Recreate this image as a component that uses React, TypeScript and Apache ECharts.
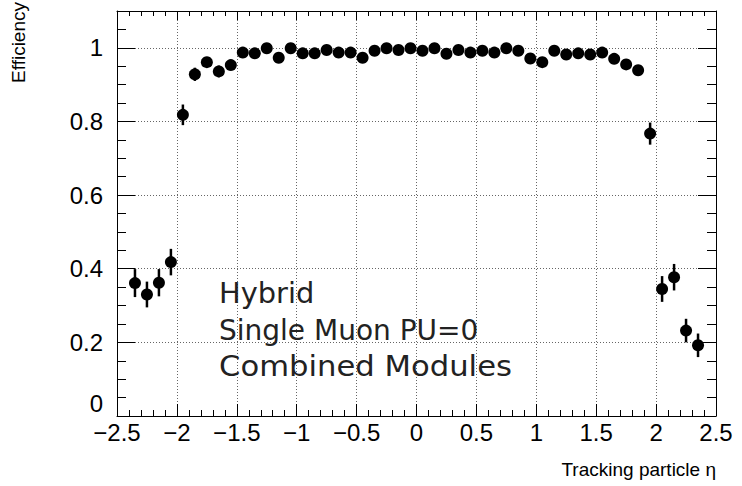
import React, { useEffect, useRef } from "react";
import * as echarts from "echarts";

const etaCenters = [
  -2.35, -2.25, -2.15, -2.05, -1.95, -1.85, -1.75, -1.65, -1.55, -1.45, -1.35, -1.25,
  -1.15, -1.05, -0.95, -0.85, -0.75, -0.65, -0.55, -0.45, -0.35, -0.25, -0.15, -0.05,
  0.05, 0.15, 0.25, 0.35, 0.45, 0.55, 0.65, 0.75, 0.85, 0.95, 1.05, 1.15,
  1.25, 1.35, 1.45, 1.55, 1.65, 1.75, 1.85, 1.95, 2.05, 2.15, 2.25, 2.35,
];
const efficiency = [
  0.361, 0.33, 0.362, 0.418, 0.818, 0.928, 0.961, 0.936, 0.953, 0.987, 0.985, 0.999,
  0.973, 0.999, 0.985, 0.985, 0.994, 0.987, 0.987, 0.973, 0.992, 0.999, 0.994, 0.999,
  0.992, 0.999, 0.984, 0.994, 0.987, 0.992, 0.987, 0.999, 0.992, 0.971, 0.961, 0.992,
  0.982, 0.985, 0.982, 0.987, 0.97, 0.955, 0.939, 0.767, 0.345, 0.377, 0.232, 0.192,
];
const errors = [
  0.038, 0.035, 0.037, 0.036, 0.028, 0.018, 0.012, 0.016, 0.012, 0.008, 0.008, 0.005,
  0.009, 0.005, 0.008, 0.008, 0.006, 0.007, 0.007, 0.009, 0.006, 0.005, 0.006, 0.005,
  0.006, 0.005, 0.008, 0.006, 0.007, 0.006, 0.007, 0.005, 0.006, 0.009, 0.01, 0.006,
  0.008, 0.008, 0.008, 0.007, 0.01, 0.012, 0.014, 0.03, 0.035, 0.036, 0.032, 0.032,
];
const xTitle = "Tracking particle η";
const yTitle = "Efficiency";
const infoLines = ["Hybrid", "Single Muon PU=0", "Combined Modules"];

const AXIS_FONT = "'Liberation Sans', Arial, sans-serif";

export default function App() {
  const ref = useRef<HTMLDivElement>(null);
  useEffect(() => {
    if (!ref.current) return;
    const chart = echarts.init(ref.current, null, { renderer: "svg" });
    const black = "#000";
    const grid = { left: 117, right: 26, top: 11, bottom: 70, containLabel: false };
    const dotted = { show: true, lineStyle: { color: "#666", type: [1, 2] as any, width: 1 } };
    const xBase = {
      type: "value" as const,
      min: -2.5,
      max: 2.5,
      interval: 0.5,
      axisLine: { show: true, onZero: false, lineStyle: { color: black, width: 1 } },
    };
    const yBase = {
      type: "value" as const,
      min: 0,
      max: 1.1,
      axisLine: { show: true, onZero: false, lineStyle: { color: black, width: 1 } },
    };
    const lineScale = [1.03, 1.0, 1.095];
    chart.setOption({
      animation: false,
      grid,
      xAxis: [
        {
          ...xBase,
          position: "bottom",
          axisTick: { show: true, inside: true, length: 12, lineStyle: { color: black } },
          minorTick: { show: true, splitNumber: 5, length: 6, lineStyle: { color: black } },
          axisLabel: {
            show: true,
            color: black,
            fontSize: 24,
            fontFamily: AXIS_FONT,
            margin: 4,
            formatter: (v: number) => String(v).replace("-", "\u2212"),
          },
          splitLine: dotted,
        },
        {
          ...xBase,
          position: "top",
          axisTick: { show: true, inside: true, length: 9, lineStyle: { color: black } },
          minorTick: { show: true, splitNumber: 5, length: 5, lineStyle: { color: black } },
          axisLabel: { show: false },
          splitLine: { show: false },
        },
      ],
      yAxis: [
        {
          ...yBase,
          position: "left",
          interval: 0.2,
          axisTick: { show: true, inside: true, length: 18, lineStyle: { color: black } },
          axisLabel: {
            show: true,
            color: black,
            fontSize: 24,
            fontFamily: AXIS_FONT,
            margin: 14,
            showMaxLabel: false,
            formatter: (v: number) =>
              v > 1.05 ? "" : v === 0 ? "{z|0}" : String(Math.round(v * 10) / 10),
            rich: {
              z: {
                fontSize: 24,
                fontFamily: AXIS_FONT,
                color: black,
                padding: [0, 0, 26, 0],
              },
            },
          },
          splitLine: dotted,
        },
        {
          ...yBase,
          position: "left",
          interval: 0.05,
          axisLine: { show: false, onZero: false },
          axisTick: { show: true, inside: true, length: 9, lineStyle: { color: black } },
          axisLabel: { show: false },
          splitLine: { show: false },
        },
        {
          ...yBase,
          position: "right",
          interval: 0.2,
          axisTick: { show: true, inside: true, length: 18, lineStyle: { color: black } },
          axisLabel: { show: false },
          splitLine: { show: false },
        },
        {
          ...yBase,
          position: "right",
          interval: 0.05,
          axisLine: { show: false, onZero: false },
          axisTick: { show: true, inside: true, length: 9, lineStyle: { color: black } },
          axisLabel: { show: false },
          splitLine: { show: false },
        },
      ],
      series: [
        {
          type: "custom",
          xAxisIndex: 0,
          yAxisIndex: 0,
          encode: { x: 0, y: [1, 2] },
          data: etaCenters.map((x, i) => [x, efficiency[i] - errors[i], efficiency[i] + errors[i]]),
          renderItem: (_params: any, api: any) => {
            const p1 = api.coord([api.value(0), api.value(1)]);
            const p2 = api.coord([api.value(0), api.value(2)]);
            return {
              type: "line",
              shape: { x1: p1[0], y1: p1[1], x2: p2[0], y2: p2[1] },
              style: { stroke: black, lineWidth: 2.5 },
            };
          },
          z: 3,
        },
        {
          type: "scatter",
          xAxisIndex: 0,
          yAxisIndex: 0,
          symbol: "circle",
          symbolSize: 12,
          itemStyle: { color: black, opacity: 1 },
          data: etaCenters.map((x, i) => [x, efficiency[i]]),
          z: 4,
        },
      ],
      graphic: [
        {
          type: "text",
          x: 18,
          y: 2,
          rotation: Math.PI / 2,
          style: {
            text: yTitle,
            fill: black,
            font: `19px ${AXIS_FONT}`,
            align: "right",
            verticalAlign: "middle",
          },
        },
        {
          type: "text",
          x: 716,
          y: 469,
          style: {
            text: xTitle,
            fill: black,
            font: `19px ${AXIS_FONT}`,
            align: "right",
            verticalAlign: "middle",
          },
        },
        ...infoLines.map((t, i) => ({
          type: "text",
          x: 219,
          y: 294 + i * 36,
          scaleX: lineScale[i],
          z: 10,
          style: {
            text: t,
            fill: "#222",
            font: "28px 'DejaVu Sans', sans-serif",
            align: "left",
            verticalAlign: "middle",
          },
        })),
      ],
    });
    return () => chart.dispose();
  }, []);
  return (
    <div
      ref={ref}
      style={{ position: "fixed", left: 0, top: 0, width: 742, height: 486, background: "#fff" }}
    />
  );
}
